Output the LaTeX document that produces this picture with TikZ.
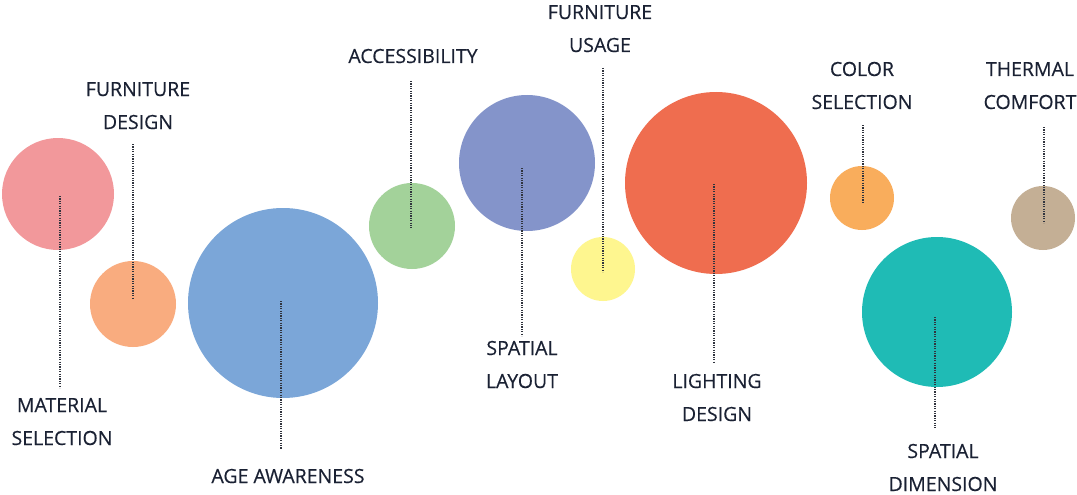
\documentclass[tikz,border=0pt]{standalone}
\usepackage{fontspec}
\setmainfont{Open Sans}
\newfontfamily\lblfont{Open Sans}[FakeBold=0.35]
\begin{document}
\begin{tikzpicture}[x=1pt,y=-1pt,
  bubble/.style={circle,draw=none,inner sep=0pt,minimum size=#1},
  lbl/.style={text=labelink,font=\lblfont\fontsize{19.5}{33}\selectfont,align=center,inner sep=0pt,anchor=base},
  leader/.style={draw=leaderink,line width=1.5pt,dash pattern=on 1.2pt off 1.2pt}]
\definecolor{labelink}{HTML}{1A2133}
\definecolor{leaderink}{HTML}{30343E}
\definecolor{cPink}{HTML}{F2989B}
\definecolor{cPeach}{HTML}{F9AC7F}
\definecolor{cBlue}{HTML}{7BA6D8}
\definecolor{cGreen}{HTML}{A3D29A}
\definecolor{cPurple}{HTML}{8494CA}
\definecolor{cYellow}{HTML}{FEF68F}
\definecolor{cRed}{HTML}{EF6D4F}
\definecolor{cOrange}{HTML}{F9AD5C}
\definecolor{cTeal}{HTML}{1FBBB5}
\definecolor{cTan}{HTML}{C4AF95}
\useasboundingbox (0,0) rectangle (1077,495);
\fill[white] (0,0) rectangle (1077,495);

% bubbles
\node[bubble=112pt,fill=cPink]   (b1)  at (58,194)  {};
\node[bubble=86pt, fill=cPeach]  (b2)  at (133,304) {};
\node[bubble=190pt,fill=cBlue]   (b3)  at (283,303) {};
\node[bubble=86pt, fill=cGreen]  (b4)  at (412,226) {};
\node[bubble=136pt,fill=cPurple] (b5)  at (527,163) {};
\node[bubble=64pt, fill=cYellow] (b6)  at (603,269) {};
\node[bubble=182pt,fill=cRed]    (b7)  at (716,183) {};
\node[bubble=64pt, fill=cOrange] (b8)  at (862,198) {};
\node[bubble=150pt,fill=cTeal]   (b9)  at (937,312) {};
\node[bubble=64pt, fill=cTan]    (b10) at (1043,218) {};

% labels (baseline of the last line)
\node[lbl] (t1)  at (62,445)  {MATERIAL\\SELECTION};
\node[lbl] (t2)  at (138,129) {FURNITURE\\DESIGN};
\node[lbl] (t3)  at (288,483) {AGE AWARENESS};
\node[lbl] (t4)  at (413,63)  {ACCESSIBILITY};
\node[lbl] (t5)  at (522,388) {SPATIAL\\LAYOUT};
\node[lbl] (t6)  at (600,52)  {FURNITURE\\USAGE};
\node[lbl] (t7)  at (717,421) {LIGHTING\\DESIGN};
\node[lbl] (t8)  at (862,109) {COLOR\\SELECTION};
\node[lbl] (t9)  at (943,491) {SPATIAL\\DIMENSION};
\node[lbl] (t10) at (1030,109) {THERMAL\\COMFORT};

% leader end points
\coordinate (p1a) at (60,196);   \coordinate (p1b) at (60,388);
\coordinate (p2a) at (133,144);  \coordinate (p2b) at (133,299);
\coordinate (p3a) at (281,301);  \coordinate (p3b) at (281,449);
\coordinate (p4a) at (411,81);   \coordinate (p4b) at (411,228);
\coordinate (p5a) at (522,168);  \coordinate (p5b) at (522,336);
\coordinate (p6a) at (603,68);   \coordinate (p6b) at (603,272);
\coordinate (p7a) at (714,184);  \coordinate (p7b) at (714,362);
\coordinate (p8a) at (863,125);  \coordinate (p8b) at (863,202);
\coordinate (p9a) at (935,317);  \coordinate (p9b) at (935,428);
\coordinate (p10a) at (1044,127);\coordinate (p10b) at (1044,223);

% dotted leaders
\foreach \i in {1,...,10} \draw[leader] (p\i a) -- (p\i b);
\end{tikzpicture}
\end{document}
